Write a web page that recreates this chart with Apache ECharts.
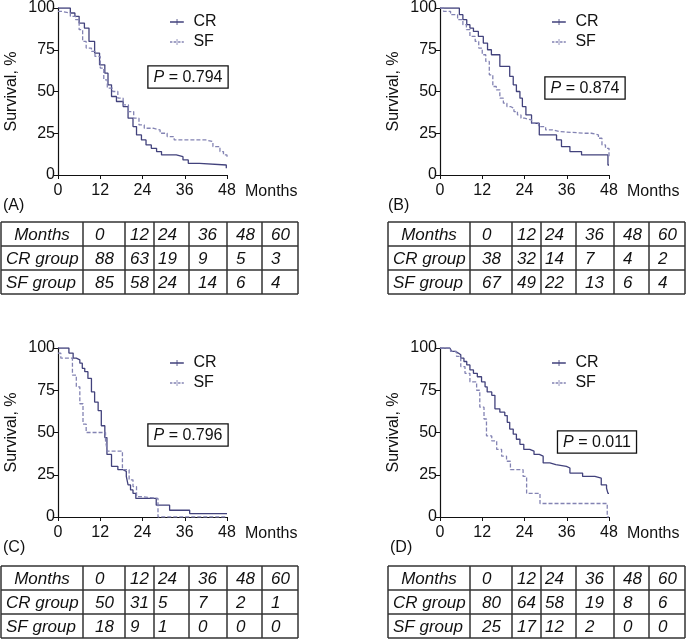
<!DOCTYPE html>
<html>
<head>
<meta charset="utf-8">
<script src="https://cdn.jsdelivr.net/npm/echarts@6/dist/echarts.min.js"></script>
<style>
  html, body { margin: 0; padding: 0; background: #fff; }
  #main { width: 686px; height: 640px; }
</style>
</head>
<body>
<div id="main"></div>
<script>
// survival curves, [month, survival %]
const crA = [[0,100],[3.5,97],[4.8,95],[6,91],[7.5,88],[8.8,80],[10.4,73],[11.8,66],[13.3,61],[14.2,54],[15.2,47],[16.6,44],[18.5,41],[19.9,34],[21.3,29],[22.3,24],[23.7,21],[25,18],[26.5,16],[28,14],[29.4,12],[33.6,11],[35.5,9],[37,7],[40.2,6],[47.8,4],[48,4]];
const sfA = [[0,98],[1,97],[3.5,95],[5,93],[6,87],[7,80],[8,76],[9.5,74],[10.5,71],[12,64],[13,57],[14,52],[15.5,50],[17,46],[18.5,42],[20,38],[21.5,34],[23,30],[24.5,28],[27,27],[29,25],[31,23],[33,21],[42,20],[44,17],[46,14],[47,12],[48,10]];

const crB = [[0,100],[5.5,96],[6.5,93],[7.6,90],[8.5,88],[9.5,86],[10.9,83],[12.3,79],[13.5,75],[14.6,72],[17,65],[19.8,59],[20.8,54],[21.7,50],[22.7,46],[23.4,41],[24.4,36],[26,31],[28.2,24],[33.1,21],[34.5,17],[36.9,14],[40.2,12],[47.7,6],[48,6]];
const sfB = [[0,100],[1,98],[3,96],[5,93],[6.5,90],[7.5,87],[8.5,83],[10,80],[11,76],[12,72],[13,68],[14,60],[15,53],[16,51],[17,46],[18,43],[19,41],[20,40],[21,38],[22,36],[23,34],[24,33],[26,31],[28,29],[30,27],[32,26],[34,25],[41,25],[43,24],[45,22],[46,18],[47,16],[48,11]];

const crC = [[0,100],[3.1,97],[4.3,94],[5.2,93],[6.2,91],[6.9,88],[7.6,86],[8.5,82],[9.5,74],[10.4,68],[11.4,63],[12.3,54],[13.3,47],[13.9,37],[15.2,30],[17,28],[18.5,27],[19.4,24],[19.9,19],[20.6,16],[21.3,14],[22.1,11],[27.9,7],[31.7,4],[37.4,2],[48,2]];
const sfC = [[0,97],[0.8,94],[4.1,84],[5.2,77],[6.2,67],[7.1,55],[8,50],[13.5,45],[14,39],[18.3,28],[20.2,22],[21.3,18],[22.3,12],[23.7,11],[28.4,0],[48,0]];

const crD = [[0,100],[2.8,99],[3.3,98],[4.3,97],[5.2,96],[5.9,94],[6.8,92],[7.6,90],[8.5,87],[9.5,85],[10.6,83],[11.8,80],[12.8,77],[13.4,74],[14.7,72],[15.6,64],[17,62],[18.4,60],[19.1,56],[19.8,52],[20.8,49],[21.7,46],[22.7,43],[23.8,40],[25.5,39],[26.7,37],[28.2,36],[29.3,32],[31.2,31],[32.9,30],[35.9,29],[36.9,26],[40.5,24],[44,23],[45.8,19],[47.3,17],[47.7,14],[48,14]];
const sfD = [[0,100],[3,98],[4.7,95],[5.9,89],[7.1,85],[8.5,80],[10.4,75],[11.3,65],[12.5,58],[13.2,48],[14.7,45],[16.1,40],[17.5,36],[18.9,33],[20,28],[23.6,24],[24.6,14],[28.4,8],[47.5,0],[48,0]];

const pValues = ['0.794', '0.874', '0.796', '0.011'];
const panelLabels = ['(A)', '(B)', '(C)', '(D)'];

// numbers at risk
const tableMonths = ['0', '12', '24', '36', '48', '60'];
const crGroupA = [88, 63, 19, 9, 5, 3];
const sfGroupA = [85, 58, 24, 14, 6, 4];
const crGroupB = [38, 32, 14, 7, 4, 2];
const sfGroupB = [67, 49, 22, 13, 6, 4];
const crGroupC = [50, 31, 5, 7, 2, 1];
const sfGroupC = [18, 9, 1, 0, 0, 0];
const crGroupD = [80, 64, 58, 19, 8, 6];
const sfGroupD = [25, 17, 12, 2, 0, 0];

const FONT = '"Liberation Sans", Arial, sans-serif';
const CR_COLOR = '#42427c';
const SF_COLOR = '#8383b3';
// legend icons: line with a small censor tick in the middle
const CR_ICON = 'path://M0,3.6L23,3.6L23,6.4L0,6.4Z M11,0L12.4,0L12.4,10L11,10Z';
const SF_ICON = 'path://M0,3.6L4,3.6L4,6.4L0,6.4Z M6,3.6L10,3.6L10,6.4L6,6.4Z M11,0L12.4,0L12.4,10L11,10Z M13.5,3.6L17.5,3.6L17.5,6.4L13.5,6.4Z M19.5,3.6L23,3.6L23,6.4L19.5,6.4Z';

const panels = [
  { cr: crA, sf: sfA, left: 58, top: 7, height: 168, tx: 1, ty: 222, lx: 3, ly: 206, legX: 170, legY: 14, px: 188, py: 77 },
  { cr: crB, sf: sfB, left: 440, top: 7, height: 168, tx: 388, ty: 222, lx: 388, ly: 206, legX: 552, legY: 14, px: 585, py: 88 },
  { cr: crC, sf: sfC, left: 58, top: 348, height: 169, tx: 1, ty: 566, lx: 3, ly: 548, legX: 170, legY: 355, px: 188, py: 435 },
  { cr: crD, sf: sfD, left: 440, top: 348, height: 169, tx: 388, ty: 566, lx: 390, ly: 548, legX: 552, legY: 355, px: 597, py: 442 }
];
const tables = [[crGroupA, sfGroupA], [crGroupB, sfGroupB], [crGroupC, sfGroupC], [crGroupD, sfGroupD]];

const chart = echarts.init(document.getElementById('main'));

const grid = [], xAxis = [], yAxis = [], series = [], legend = [], graphic = [];

panels.forEach((p, i) => {
  grid.push({ left: p.left, top: p.top, width: 169, height: p.height });
  xAxis.push({
    gridIndex: i, type: 'value', min: 0, max: 48, interval: 12,
    name: 'Months', nameLocation: 'end', nameGap: 18,
    nameTextStyle: { fontSize: 16, fontFamily: FONT, color: '#111', verticalAlign: 'top', padding: [9, 0, 0, 0] },
    axisLine: { lineStyle: { color: '#111', width: 1.2 } },
    axisTick: { length: 4, lineStyle: { color: '#111' } },
    axisLabel: { fontSize: 16, fontFamily: FONT, color: '#111', margin: 8 },
    splitLine: { show: false }
  });
  yAxis.push({
    gridIndex: i, type: 'value', min: 0, max: 100, interval: 25,
    name: 'Survival, %', nameLocation: 'middle', nameGap: 38,
    nameTextStyle: { fontSize: 16, fontFamily: FONT, color: '#111' },
    axisLine: { show: true, lineStyle: { color: '#111', width: 1.2 } },
    axisTick: { show: true, length: 4, lineStyle: { color: '#111' } },
    axisLabel: { fontSize: 16, fontFamily: FONT, color: '#111', margin: 3 },
    splitLine: { show: false }
  });
  series.push({
    name: 'CR', type: 'line', step: 'end', xAxisIndex: i, yAxisIndex: i,
    data: p.cr, showSymbol: false,
    lineStyle: { color: CR_COLOR, width: 1.3 }, itemStyle: { color: CR_COLOR }
  });
  series.push({
    name: 'SF', type: 'line', step: 'end', xAxisIndex: i, yAxisIndex: i,
    data: p.sf, showSymbol: false,
    lineStyle: { color: SF_COLOR, width: 1.3, type: [4, 2] }, itemStyle: { color: SF_COLOR }
  });
  legend.push({
    data: [{ name: 'CR', icon: CR_ICON }, { name: 'SF', icon: SF_ICON }],
    orient: 'vertical', left: p.legX, top: p.legY,
    itemWidth: 23, itemHeight: 6, itemGap: 4, padding: 0,
    textStyle: { fontSize: 16, fontFamily: FONT, color: '#111' },
    selectedMode: false
  });

  // P value box
  graphic.push({
    type: 'text', x: p.px, y: p.py,
    style: {
      text: '{i|P} = ' + pValues[i],
      rich: { i: { fontStyle: 'italic', fontSize: 16, fontFamily: FONT, fill: '#111' } },
      font: '16px ' + FONT, fill: '#111', align: 'center', verticalAlign: 'middle',
      borderColor: '#111', borderWidth: 1.3, padding: [3, 5, 2, 5], backgroundColor: '#fff'
    }
  });
  // panel letter
  graphic.push({
    type: 'text', x: p.lx, y: p.ly,
    style: { text: panelLabels[i], font: '16px ' + FONT, fill: '#111', verticalAlign: 'middle' }
  });

  // number at risk table
  const cols = [0, 82, 124, 153, 188, 226, 261, 297];
  const pads = [0, 12, 5, 4, 9, 9, 9];
  const rowH = 24;
  const children = [];
  const lineStyle = { stroke: '#333', lineWidth: 1.5 };
  for (let r = 0; r <= 3; r++) {
    children.push({ type: 'line', shape: { x1: cols[0], y1: r * rowH, x2: cols[7], y2: r * rowH }, style: lineStyle });
  }
  cols.forEach(c => {
    children.push({ type: 'line', shape: { x1: c, y1: 0, x2: c, y2: 3 * rowH }, style: lineStyle });
  });
  const rows = [['Months', tableMonths], ['CR group', tables[i][0]], ['SF group', tables[i][1]]];
  const tFont = 'italic 17px ' + FONT;
  rows.forEach((row, r) => {
    const cy = r * rowH + rowH / 2 + 1;
    children.push({
      type: 'text', x: r === 0 ? (cols[0] + cols[1]) / 2 : cols[0] + 5, y: cy,
      style: { text: row[0], font: tFont, fill: '#111', align: r === 0 ? 'center' : 'left', verticalAlign: 'middle' }
    });
    row[1].forEach((v, c) => {
      children.push({
        type: 'text', x: cols[c + 1] + pads[c + 1], y: cy,
        style: { text: String(v), font: tFont, fill: '#111', align: 'left', verticalAlign: 'middle' }
      });
    });
  });
  graphic.push({ type: 'group', x: p.tx, y: p.ty, children: children });
});

chart.setOption({
  animation: false,
  textStyle: { fontFamily: FONT },
  grid: grid,
  xAxis: xAxis,
  yAxis: yAxis,
  legend: legend,
  series: series,
  graphic: graphic
});
</script>
</body>
</html>
